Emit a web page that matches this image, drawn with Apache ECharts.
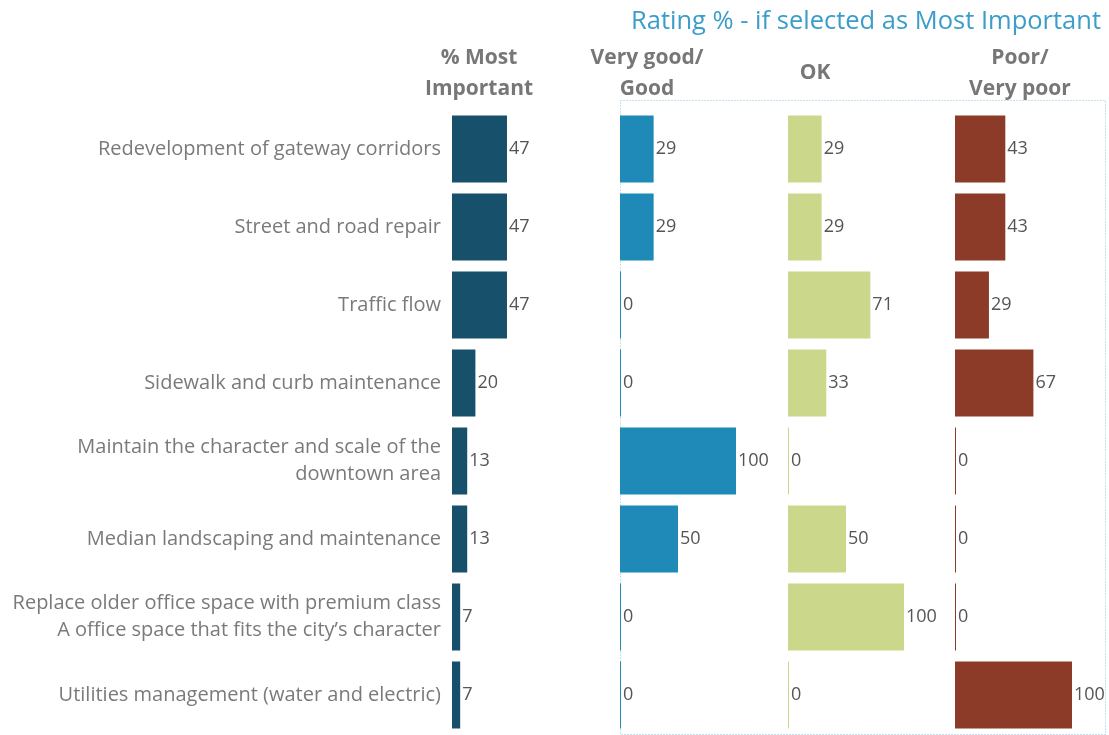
<!DOCTYPE html>
<html>
<head>
<meta charset="utf-8">
<script src="https://cdn.jsdelivr.net/npm/echarts@6/dist/echarts.min.js"></script>
<style>
  html, body { margin: 0; padding: 0; background: #fff; }
  #chart { width: 1109px; height: 735px; }
</style>
</head>
<body>
<div id="chart"></div>
<script>
// data
var categories = [
  "Redevelopment of gateway corridors",
  "Street and road repair",
  "Traffic flow",
  "Sidewalk and curb maintenance",
  "Maintain the character and scale of the\ndowntown area",
  "Median landscaping and maintenance",
  "Replace older office space with premium class\nA office space that fits the city\u2019s character",
  "Utilities management (water and electric)"
];
var mostImportant = [47, 47, 47, 20, 13, 13, 7, 7];
var veryGood = [29, 29, 0, 0, 100, 50, 0, 0];
var ok = [29, 29, 71, 33, 0, 50, 100, 0];
var poor = [43, 43, 29, 67, 0, 0, 0, 100];
var panelTitles = ["% Most\nImportant", "Very good/\nGood", "OK", "Poor/\nVery poor"];

var chart = echarts.init(document.getElementById("chart"));

var fontFamily = "'Open Sans', sans-serif";
var panels = [
  { left: 452, width: 117, color: "#16506a", data: mostImportant, center: 479, titleY: 43 },
  { left: 620, width: 116, color: "#1f8ab8", data: veryGood, center: 647, titleY: 43 },
  { left: 788, width: 116, color: "#cbd88c", data: ok, center: 815, titleY: 58 },
  { left: 955, width: 117, color: "#8b3b27", data: poor, center: 1020, titleY: 43 }
];

var grids = [], xAxes = [], yAxes = [], series = [], graphics = [];
panels.forEach(function (p, i) {
  grids.push({ left: p.left, width: p.width, top: 110, height: 624 });
  xAxes.push({ gridIndex: i, type: "value", min: 0, max: 100, show: false });
  yAxes.push({
    gridIndex: i,
    type: "category",
    data: categories,
    inverse: true,
    axisLine: { show: false },
    axisTick: { show: false },
    splitLine: { show: false },
    axisLabel: {
      show: i === 0,
      margin: 11,
      color: "#7a7a7a",
      fontSize: 20,
      lineHeight: 27,
      fontFamily: fontFamily,
      align: "right"
    }
  });
  series.push({
    type: "bar",
    xAxisIndex: i,
    yAxisIndex: i,
    data: p.data,
    barWidth: 67,
    barMinHeight: 1,
    itemStyle: { color: p.color },
    label: {
      show: true,
      position: "right",
      distance: 2,
      color: "#555",
      fontSize: 18,
      fontFamily: fontFamily
    },
    silent: true
  });
  graphics.push({
    type: "text",
    x: p.center,
    y: p.titleY,
    style: {
      text: panelTitles[i],
      fill: "#777",
      font: "bold 21px " + fontFamily,
      lineHeight: 31,
      align: "center",
      verticalAlign: "top"
    }
  });
});

graphics.push({
  type: "text",
  x: 1101,
  y: 9,
  style: {
    text: "Rating % - if selected as Most Important",
    fill: "#3b9dc9",
    font: "25.5px " + fontFamily,
    align: "right",
    verticalAlign: "top"
  }
});
graphics.push({
  type: "rect",
  shape: { x: 620.5, y: 100.5, width: 485, height: 634 },
  style: { fill: "none", stroke: "#8ec0dc", lineWidth: 1, lineDash: [1, 2] },
  z: -1
});

chart.setOption({
  animation: false,
  grid: grids,
  xAxis: xAxes,
  yAxis: yAxes,
  series: series,
  graphic: graphics
});
</script>
</body>
</html>
